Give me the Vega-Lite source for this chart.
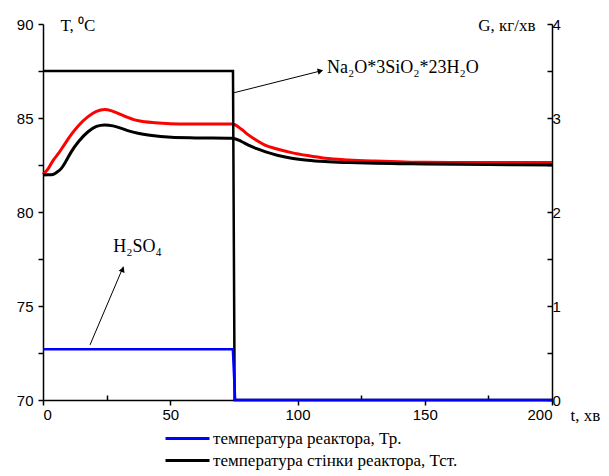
{
  "$schema": "https://vega.github.io/schema/vega-lite/v6.json",
  "width": 509,
  "height": 376,
  "autosize": {"type": "none"},
  "padding": {"left": 43, "top": 24, "right": 57, "bottom": 76},
  "background": "white",
  "config": {
    "view": {"stroke": null},
    "axis": {
      "labelFont": "Liberation Sans", "labelFontSize": 15, "labelColor": "#000",
      "titleFont": "Liberation Serif", "titleFontSize": 17, "titleFontWeight": "normal", "titleColor": "#000",
      "domainColor": "#000", "tickColor": "#000", "domainWidth": 1.5, "tickWidth": 1.5, "grid": false
    },
    "legend": {"labelFont": "Times New Roman, Liberation Serif, serif", "labelFontSize": 17, "labelColor": "#000"}
  },
  "datasets": {
    "tr": [
      {"t": 0, "T": 82.0, "series": "Тр"}, {"t": 2, "T": 82.3, "series": "Тр"}, {"t": 4, "T": 82.75, "series": "Тр"},
      {"t": 6, "T": 83.1, "series": "Тр"}, {"t": 8, "T": 83.5, "series": "Тр"}, {"t": 11, "T": 84.1, "series": "Тр"},
      {"t": 14, "T": 84.6, "series": "Тр"}, {"t": 17.7, "T": 85.07, "series": "Тр"}, {"t": 21, "T": 85.35, "series": "Тр"},
      {"t": 24.2, "T": 85.45, "series": "Тр"}, {"t": 27, "T": 85.38, "series": "Тр"}, {"t": 29.5, "T": 85.25, "series": "Тр"},
      {"t": 33, "T": 85.05, "series": "Тр"}, {"t": 36, "T": 84.9, "series": "Тр"}, {"t": 40, "T": 84.8, "series": "Тр"},
      {"t": 44, "T": 84.75, "series": "Тр"}, {"t": 50, "T": 84.7, "series": "Тр"}, {"t": 57, "T": 84.68, "series": "Тр"},
      {"t": 65, "T": 84.68, "series": "Тр"}, {"t": 74, "T": 84.68, "series": "Тр"}, {"t": 75.4, "T": 84.64, "series": "Тр"},
      {"t": 78, "T": 84.4, "series": "Тр"}, {"t": 80.7, "T": 84.1, "series": "Тр"}, {"t": 84, "T": 83.8, "series": "Тр"},
      {"t": 87.2, "T": 83.56, "series": "Тр"}, {"t": 92, "T": 83.35, "series": "Тр"}, {"t": 97.7, "T": 83.16, "series": "Тр"},
      {"t": 104, "T": 83.0, "series": "Тр"}, {"t": 110.8, "T": 82.86, "series": "Тр"}, {"t": 120, "T": 82.77, "series": "Тр"},
      {"t": 130.4, "T": 82.71, "series": "Тр"}, {"t": 140, "T": 82.67, "series": "Тр"}, {"t": 150, "T": 82.64, "series": "Тр"},
      {"t": 175, "T": 82.63, "series": "Тр"}, {"t": 200, "T": 82.63, "series": "Тр"}
    ],
    "tw": [
      {"t": 0, "T": 81.97, "series": "Тст"}, {"t": 2, "T": 81.98, "series": "Тст"}, {"t": 3.9, "T": 82.0, "series": "Тст"},
      {"t": 5.5, "T": 82.12, "series": "Тст"}, {"t": 7.2, "T": 82.32, "series": "Тст"}, {"t": 9, "T": 82.7, "series": "Тст"},
      {"t": 11.1, "T": 83.2, "series": "Тст"}, {"t": 14, "T": 83.75, "series": "Тст"}, {"t": 17.7, "T": 84.27, "series": "Тст"},
      {"t": 21, "T": 84.55, "series": "Тст"}, {"t": 24.2, "T": 84.63, "series": "Тст"}, {"t": 27.5, "T": 84.58, "series": "Тст"},
      {"t": 30.8, "T": 84.45, "series": "Тст"}, {"t": 34, "T": 84.3, "series": "Тст"}, {"t": 37.3, "T": 84.19, "series": "Тст"},
      {"t": 42, "T": 84.08, "series": "Тст"}, {"t": 50.4, "T": 83.97, "series": "Тст"}, {"t": 60, "T": 83.94, "series": "Тст"},
      {"t": 74, "T": 83.92, "series": "Тст"}, {"t": 75.4, "T": 83.9, "series": "Тст"}, {"t": 78, "T": 83.75, "series": "Тст"},
      {"t": 80.7, "T": 83.56, "series": "Тст"}, {"t": 84, "T": 83.37, "series": "Тст"}, {"t": 87.2, "T": 83.21, "series": "Тст"},
      {"t": 92, "T": 83.02, "series": "Тст"}, {"t": 97.7, "T": 82.86, "series": "Тст"}, {"t": 104, "T": 82.75, "series": "Тст"},
      {"t": 110.8, "T": 82.68, "series": "Тст"}, {"t": 120, "T": 82.63, "series": "Тст"}, {"t": 130.4, "T": 82.59, "series": "Тст"},
      {"t": 140, "T": 82.57, "series": "Тст"}, {"t": 150, "T": 82.55, "series": "Тст"}, {"t": 175, "T": 82.52, "series": "Тст"},
      {"t": 200, "T": 82.5, "series": "Тст"}
    ],
    "flow": [
      {"t": 0, "G": 3.5, "series": "Na2O"}, {"t": 74.65, "G": 3.5, "series": "Na2O"},
      {"t": 75.3, "G": 0, "series": "Na2O"}, {"t": 200, "G": 0, "series": "Na2O"},
      {"t": 0, "G": 0.54, "series": "H2SO4"}, {"t": 74.6, "G": 0.54, "series": "H2SO4"},
      {"t": 75.5, "G": 0, "series": "H2SO4"}, {"t": 200, "G": 0, "series": "H2SO4"}
    ],
    "arrows": [
      {"arrow": "a", "t": 74.65, "T": 86.33}, {"arrow": "a", "t": 109.6, "T": 87.52},
      {"arrow": "b", "t": 18.47, "T": 72.93}, {"arrow": "b", "t": 31.55, "T": 77.09}
    ],
    "heads": [
      {"arrow": "a", "t": 109.0, "T": 87.5},
      {"arrow": "b", "t": 31.3, "T": 76.95}
    ],
    "labels": [
      {"label": "Na₂O*3SiO₂*23H₂O", "t": 111.6, "T": 87.66, "pos": "left"},
      {"label": "H₂SO₄", "t": 37.1, "T": 78.14, "pos": "center"}
    ]
  },
  "encoding": {
    "x": {
      "field": "t", "type": "quantitative",
      "scale": {"domain": [0, 200], "nice": false},
      "axis": {
        "values": [0, 25, 50, 75, 100, 125, 150, 175, 200],
        "labelExpr": "datum.value % 50 === 0 ? datum.label : ''",
        "tickSize": {"condition": {"test": "datum.value % 50 === 0", "value": 5}, "value": -5},
        "labelPadding": 2,
        "title": "t, хв", "titleAlign": "left", "titleBaseline": "middle", "titleAngle": 0,
        "titleX": 527, "titleY": 15
      }
    }
  },
  "layer": [
    {
      "encoding": {
        "y": {
          "field": "T", "type": "quantitative",
          "scale": {"domain": [70, 90], "nice": false, "zero": false},
          "axis": {
            "orient": "left",
            "values": [70, 72.5, 75, 77.5, 80, 82.5, 85, 87.5, 90],
            "labelExpr": "datum.value % 5 === 0 ? datum.label : ''",
            "tickSize": 5, "labelPadding": 5,
            "title": "T, ⁰C", "titleAngle": 0, "titleAlign": "left", "titleBaseline": "middle",
            "titleX": 17, "titleY": 1
          }
        }
      },
      "layer": [
        {
          "data": {"name": "tr"},
          "mark": {"type": "line", "strokeWidth": 3, "interpolate": "monotone"},
          "encoding": {
            "color": {
              "field": "series", "type": "nominal",
              "scale": {"domain": ["H2SO4", "Тст", "Тр", "Na2O"], "range": ["#0000ff", "#000000", "#ff0000", "#000000"]},
              "legend": {
                "values": ["H2SO4", "Тст"],
                "orient": "none", "legendX": 132, "legendY": 402,
                "title": null, "symbolType": "M-2,0H2", "symbolSize": 484, "symbolStrokeWidth": 3,
                "labelFont": "Times New Roman, Liberation Serif, serif", "labelFontSize": 17, "labelColor": "#000", "labelLimit": 400,
                "labelOffset": 13, "rowPadding": 1,
                "labelExpr": "datum.value === 'H2SO4' ? 'температура реактора, Тр.' : 'температура стінки реактора, Тст.'"
              }
            }
          }
        },
        {
          "data": {"name": "tw"},
          "mark": {"type": "line", "strokeWidth": 3, "interpolate": "monotone"},
          "encoding": {"color": {"field": "series", "type": "nominal"}}
        },
        {
          "data": {"name": "arrows"},
          "mark": {"type": "line", "strokeWidth": 1, "color": "#000"},
          "encoding": {"detail": {"field": "arrow", "type": "nominal"}}
        },
        {
          "data": {"name": "heads"},
          "transform": [{"filter": "datum.arrow === 'a'"}],
          "mark": {"type": "point", "shape": "triangle-up", "filled": true, "color": "#000", "size": 40, "angle": 76, "opacity": 1}
        },
        {
          "data": {"name": "heads"},
          "transform": [{"filter": "datum.arrow === 'b'"}],
          "mark": {"type": "point", "shape": "triangle-up", "filled": true, "color": "#000", "size": 40, "angle": 23, "opacity": 1}
        },
        {
          "data": {"name": "labels"},
          "transform": [{"filter": "datum.pos === 'left'"}],
          "mark": {"type": "text", "font": "Liberation Serif", "fontSize": 18, "align": "left", "baseline": "middle", "color": "#000"},
          "encoding": {"text": {"field": "label"}}
        },
        {
          "data": {"name": "labels"},
          "transform": [{"filter": "datum.pos === 'center'"}],
          "mark": {"type": "text", "font": "Liberation Serif", "fontSize": 18, "align": "center", "baseline": "middle", "color": "#000"},
          "encoding": {"text": {"field": "label"}}
        }
      ]
    },
    {
      "data": {"name": "flow"},
      "mark": {"type": "line", "strokeWidth": 2.5},
      "encoding": {
        "y": {
          "field": "G", "type": "quantitative",
          "scale": {"domain": [0, 4], "nice": false},
          "axis": {
            "orient": "right",
            "values": [0, 0.5, 1, 1.5, 2, 2.5, 3, 3.5, 4],
            "labelExpr": "datum.value % 1 === 0 ? format(datum.value, 'd') : ''",
            "tickSize": -5, "labelPadding": 5,
            "title": "G, кг/хв", "titleAngle": 0, "titleAlign": "right", "titleBaseline": "middle",
            "titleX": -17, "titleY": 1
          }
        },
        "color": {"field": "series", "type": "nominal"},
        "order": {"field": "series", "sort": "descending"}
      }
    }
  ],
  "resolve": {"scale": {"y": "independent"}}
}
